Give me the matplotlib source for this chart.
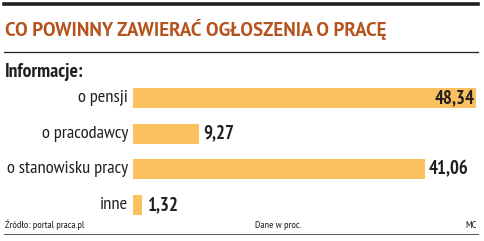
import matplotlib
matplotlib.use('Agg')
import matplotlib.pyplot as plt

# Data
categories = ['o pensji', 'o pracodawcy', 'o stanowisku pracy', 'inne']
values = [48.34, 9.27, 41.06, 1.32]
value_labels = ['48,34', '9,27', '41,06', '1,32']

plt.rcParams['font.family'] = ['PT Sans Narrow', 'DejaVu Sans']

W, H = 484, 241
fig = plt.figure(figsize=(W / 100, H / 100), dpi=100)


def fx(px):
    return px / W


def fy(py):
    return 1 - py / H


# bar area
ax = fig.add_axes([fx(133), fy(223), fx(479) - fx(133), fy(80) - fy(223)])
ypos = list(range(len(categories)))
ax.barh(ypos, values, height=0.56, color='#fbc15e', edgecolor='none')
ax.set_xlim(0, 48.7)
ax.set_ylim(3.5, -0.5)
ax.axis('off')

for y, v, lab, cat in zip(ypos, values, value_labels, categories):
    if v > 45:
        ax.text(v - 0.3, y, lab, ha='right', va='center', fontsize=13.5,
                fontweight='bold', color='#231f20')
    else:
        ax.text(v + 0.6, y, lab, ha='left', va='center', fontsize=13.5,
                fontweight='bold', color='#231f20')
    ax.annotate(cat, xy=(0, y), xytext=(-5, 0), textcoords='offset pixels',
                ha='right', va='center', fontsize=13.3, color='#231f20')

# lines
fig.add_artist(plt.Line2D([fx(4), fx(478)], [fy(4), fy(4)], color='#231f20', lw=2.6))
fig.add_artist(plt.Line2D([fx(4), fx(478)], [fy(52), fy(52)], color='#231f20', lw=0.9))
fig.add_artist(plt.Line2D([fx(4), fx(478)], [fy(234), fy(234)], color='#555555', lw=0.7))

# texts
fig.text(fx(5), fy(30), 'CO POWINNY ZAWIERAĆ OGŁOSZENIA O PRACĘ', ha='left', va='center',
         fontsize=13.7, fontweight='bold', color='#b5531d', family=['PT Sans', 'DejaVu Sans'])
fig.text(fx(5), fy(72), 'Informacje:', ha='left', va='center',
         fontsize=14, fontweight='bold', color='#231f20')
fig.text(fx(5), fy(225), 'Źródło: portal praca.pl', ha='left', va='center',
         fontsize=7.5, color='#231f20')
fig.text(fx(255), fy(225), 'Dane w proc.', ha='left', va='center',
         fontsize=7.5, color='#231f20')
fig.text(fx(477), fy(225), 'MC', ha='right', va='center',
         fontsize=7.5, color='#231f20')

fig.savefig('out.png', dpi=100)
